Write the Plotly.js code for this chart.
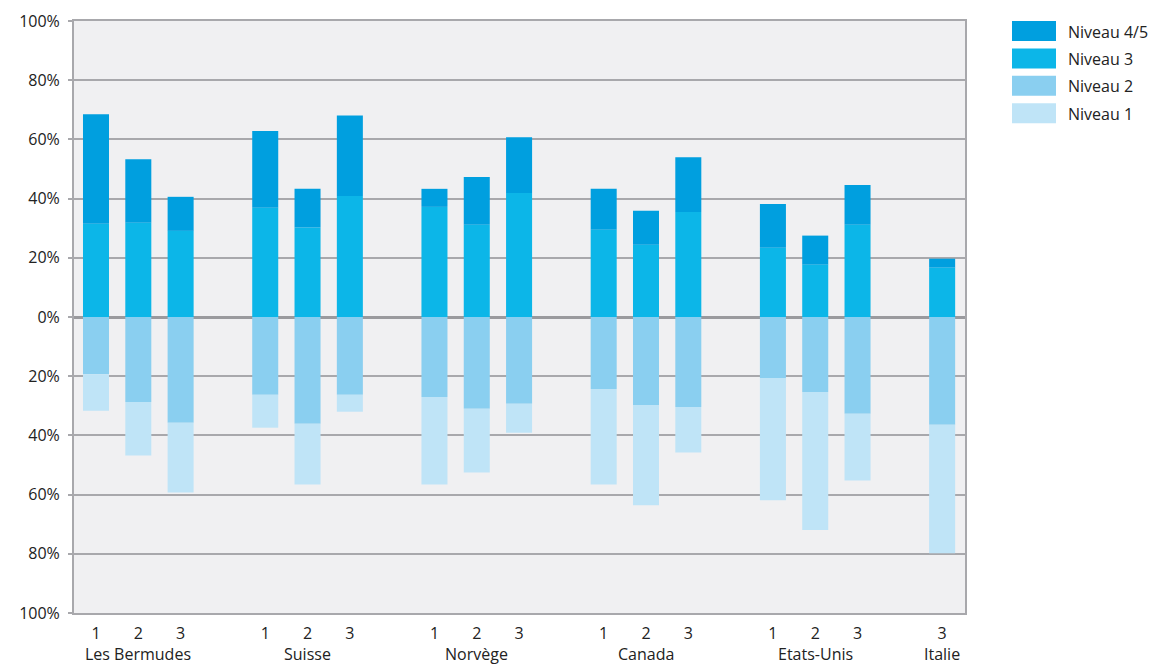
<!DOCTYPE html>
<html>
<head>
<meta charset="utf-8">
<script src="https://cdn.plot.ly/plotly-3.0.1.min.js"></script>
<style>
  html, body { margin: 0; padding: 0; background: #ffffff; }
  #chart { width: 1156px; height: 666px; }
</style>
</head>
<body>
<div id="chart"></div>
<script>
// ---- Data ----
var countries = ["Les Bermudes", "Suisse", "Norvège", "Canada", "Etats-Unis", "Italie"];
var cycleLabels = [["1", "2", "3"], ["1", "2", "3"], ["1", "2", "3"], ["1", "2", "3"], ["1", "2", "3"], ["3"]];
var seriesNames = ["Niveau 4/5", "Niveau 3", "Niveau 2", "Niveau 1"];
var seriesColors = ["#009fdf", "#0cb6e8", "#8acff0", "#bfe4f7"];

// percentages (above zero)
var niveau3  = [31.5, 31.8, 29.1, 36.9, 30.2, 40.9, 37.2, 31.2, 41.9, 29.5, 24.4, 35.5, 23.4, 17.7, 31.2, 16.7];
var niveau45 = [37.0, 21.5, 11.5, 25.9, 13.1, 27.2,  6.1, 16.1, 18.8, 13.8, 11.5, 18.5, 14.8,  9.8, 13.4,  3.0];
// percentages (below zero)
var niveau2  = [19.3, 28.7, 35.7, 26.3, 36.1, 26.3, 27.0, 31.0, 29.3, 24.3, 29.7, 30.4, 20.6, 25.3, 32.7, 36.4];
var niveau1  = [12.4, 18.1, 23.6, 11.1, 20.5,  5.7, 29.6, 21.5,  9.8, 32.3, 33.9, 15.4, 41.3, 46.7, 22.5, 43.4];

var yTickVals = [-100, -80, -60, -40, -20, 0, 20, 40, 60, 80, 100];
var yTickText = ["100%", "80%", "60%", "40%", "20%", "0%", "20%", "40%", "60%", "80%", "100%"];

// ---- Positions derived from group structure ----
var xs = [], xLabels = [], groupCenters = [];
var pos = 0;
cycleLabels.forEach(function (labels, gi) {
  var start = pos;
  labels.forEach(function (lab) { xs.push(pos); xLabels.push(lab); pos += 1; });
  groupCenters.push((start + pos - 1) / 2);
  pos += 1; // gap between groups
});

function neg(arr) { return arr.map(function (v) { return -v; }); }

var font = "Open Sans, DejaVu Sans, sans-serif";
var barW = 0.615;
function bar(y, name, color) {
  return { type: "bar", x: xs, y: y, name: name, width: barW,
           marker: { color: color, line: { width: 0 } }, showlegend: false, hoverinfo: "y+name" };
}
var traces = [
  bar(niveau3, seriesNames[1], seriesColors[1]),
  bar(niveau45, seriesNames[0], seriesColors[0]),
  bar(neg(niveau2), seriesNames[2], seriesColors[2]),
  bar(neg(niveau1), seriesNames[3], seriesColors[3])
];

// ---- Layout ----
var L = 74, R = 965, T = 21, B = 613;
var pw = R - L, ph = B - T;
function px2x(px) { return (px - L) / pw; }
function py2y(py) { return (B - py) / ph; }

var annotations = countries.map(function (c, i) {
  return { x: groupCenters[i], xref: "x", y: py2y(654), yref: "paper", text: c, showarrow: false,
           xanchor: "center", yanchor: "middle", font: { family: font, size: 16, color: "#222222" } };
});
var shapes = [];
seriesNames.forEach(function (n, i) {
  var top = 21 + i * 27.4;
  shapes.push({ type: "rect", xref: "paper", yref: "paper",
    x0: px2x(1012), x1: px2x(1056), y0: py2y(top), y1: py2y(top + 20),
    fillcolor: seriesColors[i], line: { width: 0 } });
  annotations.push({ x: px2x(1066), xref: "paper", y: py2y(top + 10.5), yref: "paper", text: n,
    showarrow: false, xanchor: "left", yanchor: "middle", font: { family: font, size: 16, color: "#222222" } });
});

var layout = {
  width: 1156, height: 666,
  margin: { l: L, r: 1156 - R, t: T, b: 666 - B, pad: 0 },
  paper_bgcolor: "#ffffff",
  plot_bgcolor: "#f0f0f2",
  barmode: "relative",
  showlegend: false,
  font: { family: font, size: 16, color: "#222222" },
  xaxis: {
    range: [-0.52, 20.54], tickvals: xs, ticktext: xLabels, ticks: "", showgrid: false,
    zeroline: false, showline: true, mirror: true, linecolor: "#a8a8ac", linewidth: 2,
    tickfont: { family: font, size: 16, color: "#222222" }, ticklabelstandoff: 5, fixedrange: true
  },
  yaxis: {
    range: [-100, 100], tickvals: yTickVals, ticktext: yTickText, ticks: "outside", ticklen: 4,
    tickcolor: "#a8a8ac", tickwidth: 2, showgrid: true, gridcolor: "#a8a8ac", gridwidth: 2,
    zeroline: true, zerolinecolor: "#9a9a9e", zerolinewidth: 3,
    showline: true, mirror: true, linecolor: "#a8a8ac", linewidth: 2,
    tickfont: { family: font, size: 16, color: "#222222" }, ticklabelstandoff: 5, fixedrange: true
  },
  annotations: annotations,
  shapes: shapes
};

Plotly.newPlot("chart", traces, layout, { displayModeBar: false, staticPlot: true });
</script>
</body>
</html>
